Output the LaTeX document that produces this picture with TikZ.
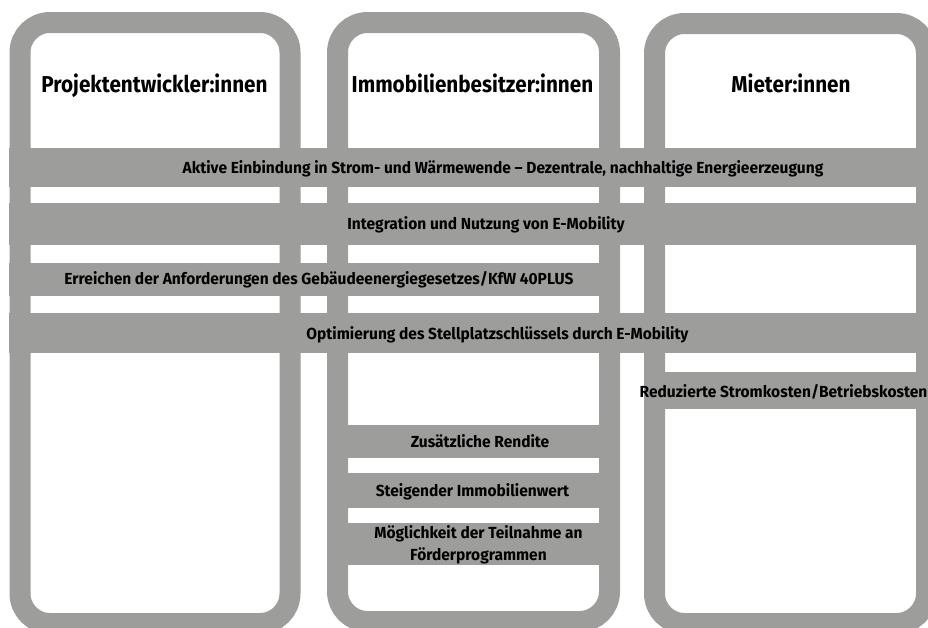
\documentclass[tikz,border=0pt]{standalone}
\usepackage{fontspec}
\setmainfont{Fira Sans}
\newfontfamily\headfont{Fira Sans}[FakeStretch=0.9]
\newfontfamily\bandfont{Fira Sans}[FakeStretch=0.97]
\definecolor{boxgray}{RGB}{157,157,156}
\begin{document}
\begin{tikzpicture}
[x=1pt,y=-1pt,
  columndecorate/.style={draw=boxgray,line width=21pt,rounded corners=30pt},%
  banddecorate/.style={fill=boxgray},%
  headdecorate/.style={anchor=base,inner sep=0pt,font=\headfont\fontsize{23}{27}\selectfont\bfseries},%
  textdecorate/.style={anchor=base,inner sep=0pt,align=center,font=\bandfont\fontsize{16}{22}\selectfont\bfseries}]
\useasboundingbox (0,0) rectangle (928,627);
\clip (0,0) rectangle (928,627);
% columns
\draw[columndecorate] (20,22.5) rectangle (290,623.5);
\draw[columndecorate] (337.5,22.5) rectangle (609.5,621.5);
\draw[columndecorate] (654.5,23.5) rectangle (926.5,623.5);
% bands
\fill[banddecorate] (9,148) rectangle (940,187);
\fill[banddecorate] (9,203) rectangle (940,245);
\fill[banddecorate] (9,263) rectangle (620,296);
\fill[banddecorate] (9,313) rectangle (940,353);
\fill[banddecorate] (644,372) rectangle (940,409);
\fill[banddecorate] (327,425) rectangle (620,458);
\fill[banddecorate] (327,473) rectangle (620,508);
\fill[banddecorate] (327,523) rectangle (620,565);
% headings
\node (projekt) at (154.5,92) [headdecorate] {Projektentwickler:innen};
\node (besitzer) at (472.5,92) [headdecorate] {Immobilienbesitzer:innen};
\node (mieter) at (791,92) [headdecorate] {Mieter:innen};
% band labels
\node (einbindung) at (503,173) [textdecorate] {Aktive Einbindung in Strom- und Wärmewende – Dezentrale, nachhaltige Energieerzeugung};
\node (mobility) at (486,229) [textdecorate] {Integration und Nutzung von E-Mobility};
\node (geg) at (319,284) [textdecorate] {Erreichen der Anforderungen des Gebäudeenergiegesetzes/KfW 40PLUS};
\node (stellplatz) at (497.5,339) [textdecorate] {Optimierung des Stellplatzschlüssels durch E-Mobility};
\node (strom) at (783.5,397) [textdecorate] {Reduzierte Stromkosten/Betriebskosten};
\node (rendite) at (480,447) [textdecorate] {Zusätzliche Rendite};
\node (wert) at (472.5,496) [textdecorate] {Steigender Immobilienwert};
\node (foerder) at (478.5,560) [textdecorate] {Möglichkeit der Teilnahme an\\Förderprogrammen};
\end{tikzpicture}
\end{document}
